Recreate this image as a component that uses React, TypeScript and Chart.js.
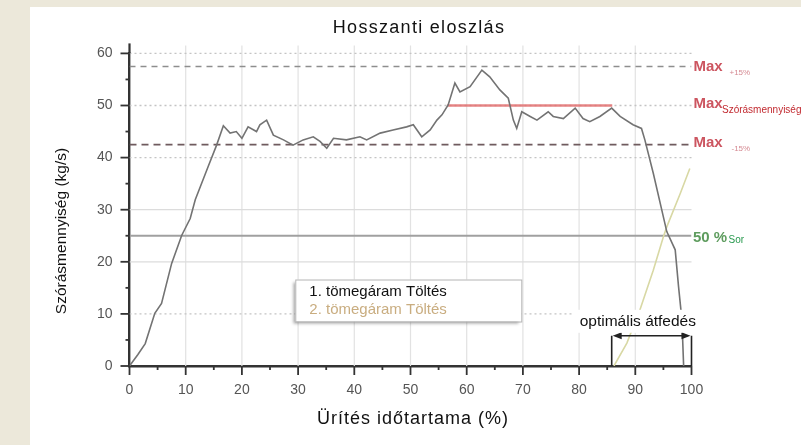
import React, { useEffect, useRef } from 'react';
import { Chart, registerables } from 'chart.js';

Chart.register(...registerables);

// ---- data ----
const flow1X = [0, 1.5, 2.8, 4.5, 5.7, 7.5, 9.3, 10.8, 11.7, 14.0, 15.5, 16.7, 17.9, 19.0, 20.0, 21.1, 22.6, 23.2, 24.4, 25.6, 27.4, 29.1, 30.9, 32.7, 33.9, 35.1, 36.3, 38.6, 41.0, 42.2, 44.6, 46.9, 49.3, 50.5, 52.0, 53.5, 54.7, 55.6, 56.7, 57.9, 58.8, 60.6, 62.7, 64.1, 65.9, 67.4, 68.3, 68.9, 69.8, 71.3, 72.5, 74.5, 75.4, 77.2, 79.3, 80.7, 81.9, 83.7, 85.8, 87.3, 89.6, 91.1, 91.7, 93.2, 95.6, 97.1, 97.7, 98.3, 98.6];
const flow1Y = [0, 2.2, 4.3, 10.1, 12.0, 19.7, 25.1, 28.3, 31.9, 38.3, 42.4, 46.1, 44.7, 45.0, 43.7, 45.9, 45.0, 46.3, 47.2, 44.3, 43.4, 42.4, 43.4, 44.0, 43.1, 41.8, 43.7, 43.4, 44.0, 43.4, 44.7, 45.3, 45.9, 46.3, 44.0, 45.3, 47.2, 48.2, 50.1, 54.3, 52.6, 53.6, 56.8, 55.5, 53.0, 51.4, 47.2, 45.6, 48.8, 47.9, 47.2, 48.8, 47.9, 47.5, 49.5, 47.5, 46.9, 47.9, 49.5, 47.9, 46.3, 45.6, 43.4, 37.0, 25.8, 22.3, 15.2, 8.8, 0];
const flow2X = [86.2, 88.5, 90.8, 93.2, 95.0, 95.6, 98.0, 99.7];
const flow2Y = [0, 4.4, 10.7, 18.4, 24.8, 26.7, 33.1, 37.9];

const xTickLabels = [0, 10, 20, 30, 40, 50, 60, 70, 80, 90, 100];
const yTickLabels = [0, 10, 20, 30, 40, 50, 60];
const maxLevel = 50;
const maxPlus = 57.5;
const maxMinus = 42.5;
const sorLevel = 25;
const maxSpan = [56.5, 85.9];
const overlapSpan = [85.8, 100];
const overlapHeight = 5.8;
const solidGridY = [20, 30];
const dottedGridY = [10, 40, 50, 60];
const gridX = [10, 20, 30, 40, 50, 60, 70, 80, 90];
const legendLabels = ['1. tömegáram Töltés', '2. tömegáram Töltés'];
const titleText = 'Hosszanti eloszlás';
const xTitle = 'Ürítés időtartama (%)';
const yTitle = 'Szórásmennyiség (kg/s)';
const overlapText = 'optimális átfedés';

const FONT = '"Liberation Sans", Arial, sans-serif';

const decor = {
  id: 'decor',
  beforeDraw(chart: any) {
    const { ctx, width, height } = chart;
    ctx.save();
    ctx.fillStyle = '#ece8da';
    ctx.fillRect(0, 0, width, height);
    ctx.fillStyle = '#ffffff';
    ctx.fillRect(30, 7, width - 30, height - 7);
    ctx.restore();
  },
  beforeDatasetsDraw(chart: any) {
    const { ctx, chartArea } = chart;
    const xs = chart.scales.x;
    const ys = chart.scales.y;
    ctx.save();
    // vertical grid
    ctx.strokeStyle = '#e2e2e2';
    ctx.lineWidth = 1.2;
    gridX.forEach((v) => {
      const px = xs.getPixelForValue(v);
      ctx.beginPath();
      ctx.moveTo(px, chartArea.top - 8);
      ctx.lineTo(px, chartArea.bottom);
      ctx.stroke();
    });
    // solid horizontal grid
    ctx.strokeStyle = '#dcdcdc';
    ctx.lineWidth = 1.2;
    solidGridY.forEach((v) => {
      const py = ys.getPixelForValue(v);
      ctx.beginPath();
      ctx.moveTo(chartArea.left, py);
      ctx.lineTo(chartArea.right, py);
      ctx.stroke();
    });
    // dotted horizontal grid
    ctx.strokeStyle = '#c4c4c4';
    ctx.lineWidth = 1.3;
    ctx.setLineDash([2, 3]);
    dottedGridY.forEach((v) => {
      const py = ys.getPixelForValue(v);
      ctx.beginPath();
      ctx.moveTo(chartArea.left, py);
      ctx.lineTo(chartArea.right, py);
      ctx.stroke();
    });
    ctx.restore();
  },
  afterDraw(chart: any) {
    const { ctx, chartArea } = chart;
    const xs = chart.scales.x;
    const ys = chart.scales.y;
    ctx.save();

    // axis extension + tick marks
    ctx.strokeStyle = '#333';
    ctx.lineWidth = 2.2;
    ctx.beginPath();
    ctx.moveTo(chartArea.left, chartArea.top);
    ctx.lineTo(chartArea.left, chartArea.top - 10);
    ctx.stroke();
    ctx.lineWidth = 1.8;
    for (let v = 0; v <= 60; v += 5) {
      const py = ys.getPixelForValue(v);
      const len = v % 10 === 0 ? 9 : 4;
      ctx.beginPath();
      ctx.moveTo(chartArea.left - len, py);
      ctx.lineTo(chartArea.left, py);
      ctx.stroke();
    }
    for (let v = 0; v <= 100; v += 5) {
      const px = xs.getPixelForValue(v);
      const len = v % 10 === 0 ? 9 : 4;
      ctx.beginPath();
      ctx.moveTo(px, chartArea.bottom);
      ctx.lineTo(px, chartArea.bottom + len);
      ctx.stroke();
    }

    // overlap bracket
    const bx0 = xs.getPixelForValue(overlapSpan[0]);
    const bx1 = xs.getPixelForValue(overlapSpan[1]);
    const by = ys.getPixelForValue(overlapHeight);
    const b0 = chartArea.bottom;
    ctx.strokeStyle = '#222';
    ctx.fillStyle = '#222';
    ctx.lineWidth = 1.6;
    ctx.beginPath();
    ctx.moveTo(bx0, b0);
    ctx.lineTo(bx0, by);
    ctx.moveTo(bx1, b0);
    ctx.lineTo(bx1, by);
    ctx.moveTo(bx0 + 4, by);
    ctx.lineTo(bx1 - 4, by);
    ctx.stroke();
    ctx.beginPath();
    ctx.moveTo(bx0 + 1, by);
    ctx.lineTo(bx0 + 10, by - 3.5);
    ctx.lineTo(bx0 + 10, by + 3.5);
    ctx.closePath();
    ctx.fill();
    ctx.beginPath();
    ctx.moveTo(bx1 - 1, by);
    ctx.lineTo(bx1 - 10, by - 3.5);
    ctx.lineTo(bx1 - 10, by + 3.5);
    ctx.closePath();
    ctx.fill();

    // overlap label
    const lx = xs.getPixelForValue(80.1);
    ctx.fillStyle = '#ffffff';
    ctx.fillRect(lx - 7, by - 26, 127, 23);
    ctx.fillStyle = '#111';
    ctx.font = `15.5px ${FONT}`;
    ctx.textAlign = 'left';
    ctx.textBaseline = 'alphabetic';
    ctx.fillText(overlapText, lx, by - 10);

    // legend box
    const gx = xs.getPixelForValue(29.5);
    const gy = ys.getPixelForValue(16.6);
    ctx.save();
    ctx.shadowColor = 'rgba(0,0,0,0.35)';
    ctx.shadowBlur = 3;
    ctx.shadowOffsetX = -2;
    ctx.shadowOffsetY = 2;
    ctx.fillStyle = '#fff';
    ctx.fillRect(gx, gy, 226, 42);
    ctx.restore();
    ctx.strokeStyle = '#b5b5b5';
    ctx.lineWidth = 1;
    ctx.strokeRect(gx + 0.5, gy + 0.5, 226, 42);
    ctx.font = `15px ${FONT}`;
    ctx.fillStyle = '#111';
    ctx.fillText(legendLabels[0], gx + 14, gy + 16);
    ctx.fillStyle = '#c9ad80';
    ctx.fillText(legendLabels[1], gx + 14, gy + 34);

    // right annotations
    const ax = chartArea.right + 2;
    ctx.fillStyle = '#cc5560';
    ctx.font = `bold 15px ${FONT}`;
    ctx.fillText('Max', ax, ys.getPixelForValue(maxPlus) + 5);
    ctx.fillText('Max', ax, ys.getPixelForValue(maxLevel) + 2.5);
    ctx.fillText('Max', ax, ys.getPixelForValue(maxMinus) + 2.5);
    ctx.fillStyle = '#d58a92';
    ctx.font = `8px ${FONT}`;
    ctx.fillText('+15%', ax + 36, ys.getPixelForValue(maxPlus) + 8.5);
    ctx.fillText('-15%', ax + 38, ys.getPixelForValue(maxMinus) + 6.5);
    ctx.fillStyle = '#c22a30';
    ctx.font = `10px ${FONT}`;
    ctx.fillText('Szórásmennyiség', ax + 28.5, ys.getPixelForValue(maxLevel) + 7);
    ctx.fillStyle = '#5e9c5e';
    ctx.font = `bold 15px ${FONT}`;
    ctx.fillText('50 %', ax - 0.5, ys.getPixelForValue(sorLevel) + 6);
    ctx.fillStyle = '#2a9a50';
    ctx.font = `10px ${FONT}`;
    ctx.fillText('Sor', ax + 35, ys.getPixelForValue(sorLevel) + 7.5);

    // titles
    ctx.fillStyle = '#111';
    ctx.textAlign = 'center';
    ctx.font = `18px ${FONT}`;
    (ctx as any).letterSpacing = '1.3px';
    ctx.fillText(titleText, 419, 32.7);
    (ctx as any).letterSpacing = '1px';
    ctx.fillText(xTitle, 413, 424);
    (ctx as any).letterSpacing = '0px';
    ctx.font = `15.5px ${FONT}`;
    ctx.translate(62, 231);
    ctx.rotate(-Math.PI / 2);
    ctx.textBaseline = 'middle';
    ctx.fillText(yTitle, 0, 0);
    ctx.restore();
  },
};

const tickCb = (allowed: number[]) => (v: any) => (allowed.includes(Number(v)) ? String(v) : '');

export default function App() {
  const ref = useRef<HTMLCanvasElement | null>(null);
  useEffect(() => {
    if (!ref.current) return;
    const pts = (xs: number[], ys: number[]) => xs.map((x, i) => ({ x, y: ys[i] }));
    const hline = (v: number, a = 0, b = 100) => [{ x: a, y: v }, { x: b, y: v }];
    const chart = new Chart(ref.current, {
      type: 'line',
      data: {
        datasets: [
          { label: legendLabels[0], data: pts(flow1X, flow1Y), borderColor: '#737373', borderWidth: 1.6, pointRadius: 0, tension: 0 },
          { label: legendLabels[1], data: pts(flow2X, flow2Y), borderColor: '#d8d8a4', borderWidth: 1.6, pointRadius: 0, tension: 0 },
          { label: 'Max', data: hline(maxLevel, maxSpan[0], maxSpan[1]), borderColor: 'rgba(226,112,112,0.85)', borderWidth: 2.5, pointRadius: 0 },
          { label: 'Max+15%', data: hline(maxPlus), borderColor: '#8e8e8e', borderWidth: 1.5, borderDash: [6, 5], pointRadius: 0 },
          { label: 'Max-15%', data: hline(maxMinus), borderColor: '#6f5b5e', borderWidth: 1.8, borderDash: [7, 5], pointRadius: 0 },
          { label: '50% Sor', data: hline(sorLevel), borderColor: '#a0a0a0', borderWidth: 2, pointRadius: 0 },
        ],
      },
      options: {
        animation: false,
        responsive: false,
        parsing: true,
        layout: { padding: { left: 54, right: 109.5, top: 53.4, bottom: 0 } },
        plugins: { legend: { display: false }, tooltip: { enabled: false }, title: { display: false } },
        scales: {
          x: {
            type: 'linear',
            min: 0,
            max: 100,
            afterFit: (s: any) => { s.height = 79; },
            grid: { display: false, drawTicks: false },
            border: { display: true, color: '#333', width: 2.4 },
            ticks: { stepSize: 5, autoSkip: false, maxRotation: 0, padding: 16, color: '#555', font: { family: FONT, size: 14 }, callback: tickCb(xTickLabels) },
          },
          y: {
            type: 'linear',
            min: 0,
            max: 60,
            afterFit: (s: any) => { s.width = 75.5; },
            grid: { display: false, drawTicks: false },
            border: { display: true, color: '#333', width: 2.4 },
            ticks: { stepSize: 5, autoSkip: false, padding: 17, color: '#555', font: { family: FONT, size: 14 }, callback: tickCb(yTickLabels) },
          },
        },
      } as any,
      plugins: [decor],
    });
    return () => chart.destroy();
  }, []);
  return (
    <div style={{ position: 'fixed', left: 0, top: 0, width: 801, height: 445 }}>
      <canvas ref={ref} width={801} height={445} style={{ width: 801, height: 445, display: 'block' }} />
    </div>
  );
}
